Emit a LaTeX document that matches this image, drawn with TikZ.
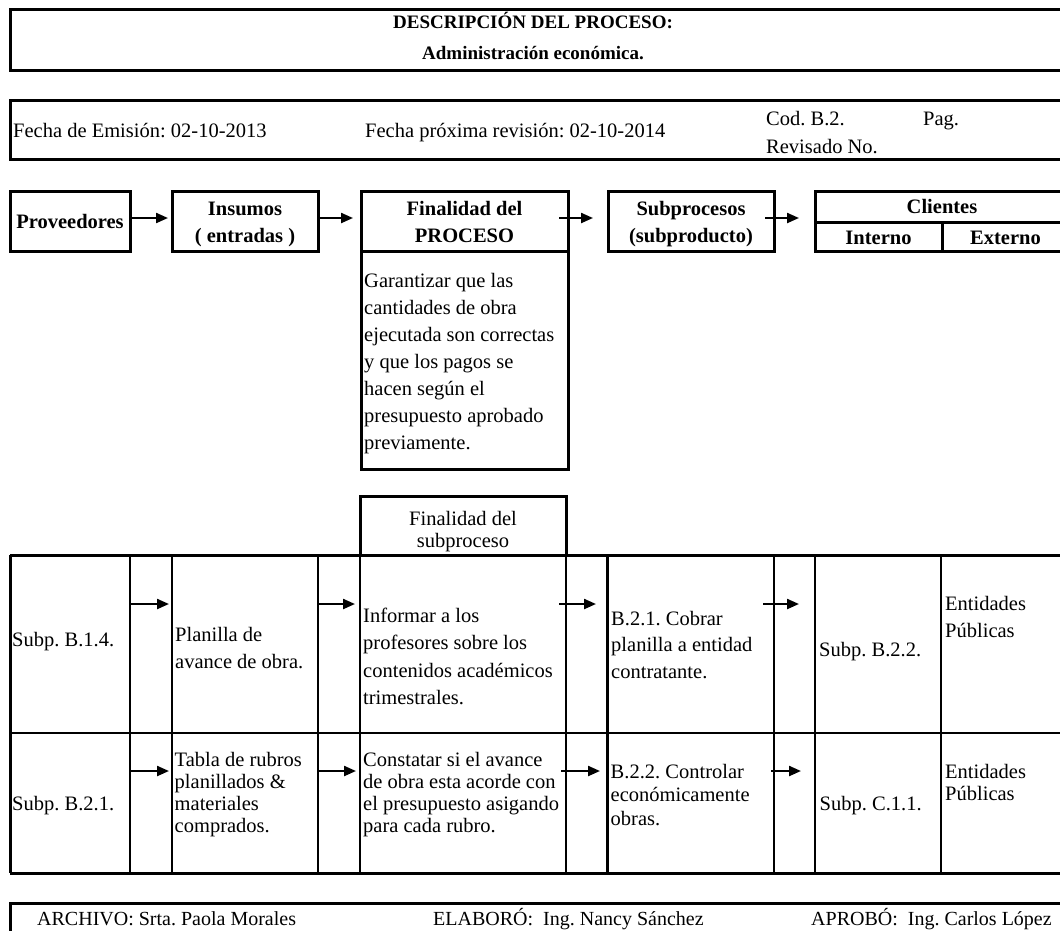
\documentclass[tikz,border=0pt]{standalone}
\usepackage{fontspec}
\setmainfont{Liberation Serif}
\usetikzlibrary{arrows.meta}
\frenchspacing

\tikzset{
  caja/.style={draw, line width=3pt, outer sep=0pt, inner sep=0pt, anchor=north west},
  borde/.style={line width=3pt},
  linea/.style={line width=2.4pt},
  flecha/.style={line width=2.2pt, -{Triangle[length=12pt,width=10pt]}},
  texto/.style={font=\fontsize{20.5}{25}\selectfont, anchor=base west, inner sep=0pt},
  centro/.style={texto, anchor=base},
  negrita/.style={centro, font=\fontsize{20.5}{25}\selectfont\bfseries},
  grande/.style={centro, font=\fontsize{19}{23}\selectfont\bfseries},
  pie/.style={texto, font=\fontsize{20}{24}\selectfont},
}

% one node per line: style, name, x, first baseline, step, lines
\newcommand{\celda}[6][texto]{%
  \foreach \t [count=\i from 0] in {#6}
    \node[#1] (#2-\i) at (#3,#4+#5*\i) {\t};}

\begin{document}
\begin{tikzpicture}[x=1pt,y=-1pt]
\useasboundingbox (0,0) rectangle (1060,930);
\clip (0,0) rectangle (1060,930);

% titulo
\draw[borde] (10,9.5) rectangle (1075,70);
\celda[grande]{titulo}{533}{28.5}{30.5}{DESCRIPCIÓN DEL PROCESO:, Administración económica.}

% fechas
\draw[borde] (10,100.5) rectangle (1075,159);
\node[texto] (emision) at (13,137) {Fecha de Emisión: 02-10-2013};
\node[texto] (revision) at (365,137) {Fecha próxima revisión: 02-10-2014};
\node[texto] (codigo) at (766,125) {Cod. B.2.};
\node[texto] (pag) at (923,125) {Pag.};
\node[texto] (revisado) at (766,153) {Revisado No.};

% proveedores -> insumos -> finalidad -> subprocesos -> clientes
\node[caja, minimum width=119.5pt, minimum height=60pt] (prov) at (10.5,191) {};
\celda[negrita]{provtxt}{70}{228}{0}{Proveedores}
\node[caja, minimum width=145.5pt, minimum height=60pt] (ins) at (172.5,191) {};
\celda[negrita]{instxt}{245}{215}{27}{Insumos, ( entradas )}
\node[caja, minimum width=207pt, minimum height=60pt] (fin) at (361,191) {};
\node[caja, minimum width=207pt, minimum height=218pt] (finbody) at (361,251) {};
\celda[negrita]{fintxt}{464.5}{215}{27}{Finalidad del, PROCESO}
\celda{objetivo}{364}{287}{27}{Garantizar que las, cantidades de obra, ejecutada son correctas, y que los pagos se, hacen según el, presupuesto aprobado, previamente.}
\node[caja, minimum width=166pt, minimum height=60pt] (sub) at (608,191) {};
\celda[negrita]{subtxt}{691}{215}{27}{Subprocesos, (subproducto)}
\node[caja, minimum width=260pt, minimum height=60pt] (cli) at (815,191) {};
\draw[borde] (815,222) -- (1075,222);
\draw[borde] (942,222) -- (942,251);
\node[negrita] (clientes) at (942,213) {Clientes};
\node[negrita] (interno) at (878.5,244) {Interno};
\node[negrita] (externo) at (1005.5,244) {Externo};

\draw[flecha, shorten >=4.5pt] ([yshift=3pt]prov.east) -- ([yshift=3pt]ins.west);
\draw[flecha, shorten >=8pt] ([xshift=2pt,yshift=3pt]ins.east) -- ([yshift=3pt]fin.west);
\draw[flecha, shorten >=15pt] ([xshift=-9pt,yshift=3pt]fin.east) -- ([yshift=3pt]sub.west);
\draw[flecha, shorten >=16pt] ([xshift=-9pt,yshift=3pt]sub.east) -- ([yshift=3pt]cli.west);

% tabla de subprocesos
\node[caja, minimum width=206pt, minimum height=59pt] (subfin) at (360,496) {};
\celda[centro]{subfintxt}{463}{525}{22}{Finalidad del, subproceso}
\draw[borde] (10,555) -- (1075,555);
\draw[borde] (10,873) -- (1075,873);
\draw[borde] (10.5,555) -- (10.5,873);
\draw[linea] (10,733) -- (1075,733);
\foreach \x in {130,172,318,360,566,607.5,774,815,941}
  \draw[linea] (\x,555) -- (\x,873);

\foreach \a/\b [count=\k] in {130/169,318/355,559/596,763/799} {
  \coordinate (ida-\k) at (\a,604);
  \coordinate (llega-\k) at (\b,604);
  \draw[flecha] (ida-\k) -- (llega-\k);
}
\foreach \a/\b [count=\k] in {130/169,318/356,561/600,771/801} {
  \coordinate (sale-\k) at (\a,771);
  \coordinate (entra-\k) at (\b,771);
  \draw[flecha] (sale-\k) -- (entra-\k);
}

% fila 1
\node[texto] (prov1) at (12,646) {Subp. B.1.4.};
\celda{insumo1}{175}{641}{27}{Planilla de, avance de obra.}
\celda{meta1}{363}{622}{27.5}{Informar a los, profesores sobre los, contenidos académicos, trimestrales.}
\celda{proc1}{611}{625}{26.5}{B.2.1. Cobrar, planilla a entidad, contratante.}
\node[texto] (cint1) at (819,656) {Subp. B.2.2.};
\celda{cext1}{945}{610}{27}{Entidades, Públicas}

% fila 2
\node[texto] (prov2) at (12,810) {Subp. B.2.1.};
\celda{insumo2}{174.5}{766}{22}{Tabla de rubros, planillados \&, materiales, comprados.}
\celda{meta2}{363}{766}{22}{Constatar si el avance, de obra esta acorde con, el presupuesto asigando, para cada rubro.}
\celda{proc2}{610.5}{778}{23.5}{B.2.2. Controlar, económicamente, obras.}
\node[texto] (cint2) at (819.5,810) {Subp. C.1.1.};
\celda{cext2}{945}{778}{22}{Entidades, Públicas}

% pie
\draw[borde] (10,903) rectangle (1075,945);
\node[pie] (archivo) at (37,925) {ARCHIVO: Srta. Paola Morales};
\node[pie] (elaboro) at (433,925) {ELABORÓ:\ \ Ing. Nancy Sánchez};
\node[pie] (aprobo) at (811,925) {APROBÓ:\ \ Ing. Carlos López};
\end{tikzpicture}
\end{document}
